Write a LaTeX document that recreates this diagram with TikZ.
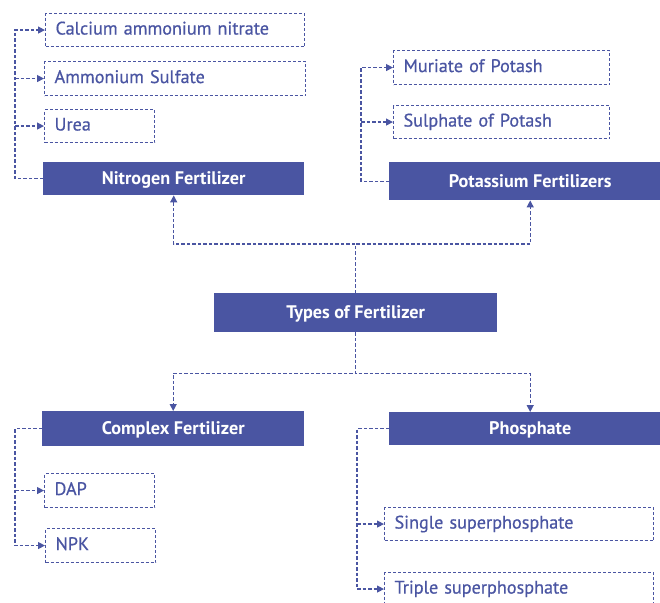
\documentclass[tikz,border=0pt]{standalone}
\usepackage{fontspec}
\setmainfont{PT Sans}
\newfontfamily\itemfont[FakeBold=0.6]{PT Sans}
\usetikzlibrary{arrows.meta}
\definecolor{fert}{HTML}{4A55A2}
\tikzset{
  box/.style={rectangle, anchor=north west, inner ysep=0pt},
  head/.style={box, fill=fert, text=white, text height=12.7pt, text depth=0.5pt,
    font=\fontsize{18.2}{20}\selectfont\bfseries},
  item/.style={box, draw=fert, line width=1.1pt, dash pattern=on 3pt off 2pt,
    text=fert, inner xsep=10pt, align=left, text height=12.5pt, text depth=3.5pt,
    font=\itemfont\fontsize{18.2}{20}\selectfont},
  conn/.style={draw=fert, line width=1.3pt, dash pattern=on 3.5pt off 2pt},
  tip/.style={conn, -{Triangle[length=7pt,width=7pt]}},
}
\begin{document}
\begin{tikzpicture}[x=1pt, y=-1pt]
\useasboundingbox (0,0) rectangle (660,602);
\clip (0,0) rectangle (660,602);

% centre node
\node[head, minimum width=283pt, minimum height=39pt] (types) at (214,293) {Types of Fertilizer};

% nitrogen group
\node[head, minimum width=261pt, minimum height=33pt] (nit) at (43,162) {Nitrogen Fertilizer};
\node[item, minimum height=33pt, text width=239pt] (cal) at (45,13) {Calcium ammonium nitrate};
\node[item, minimum height=34pt, text width=241pt] (amm) at (44,61) {Ammonium Sulfate};
\node[item, minimum height=33pt, text width=90pt] (urea) at (44,109) {Urea};

% potassium group
\node[head, minimum width=282pt, minimum height=38pt] (pot) at (389,162) {Potassium Fertilizers};
\node[item, minimum height=34pt, text width=196pt] (mur) at (393,50) {Muriate of Potash};
\node[item, minimum height=33pt, text width=196pt] (sul) at (393,105) {Sulphate of Potash};

% complex group
\node[head, minimum width=262pt, minimum height=35pt] (comp) at (42,411) {Complex Fertilizer};
\node[item, minimum height=34pt, text width=90pt] (dap) at (44,473) {DAP};
\node[item, minimum height=34pt, text width=90pt] (npk) at (45,528) {NPK};

% phosphate group
\node[head, minimum width=282pt, minimum height=33pt] (phos) at (389,412) {Phosphate};
\node[item, minimum height=33pt, text width=249pt] (ssp) at (384,507) {Single superphosphate};
\node[item, minimum height=33pt, text width=249pt] (tsp) at (384,572) {Triple superphosphate};

% buses
\coordinate (nbus) at (15,0);
\coordinate (kbus) at (361,0);
\coordinate (cbus) at (15,0);
\coordinate (pbus) at (357,0);

% main branches
\draw[tip] (types.north) -- ++(0,-49) -| (nit.south);
\draw[tip] (types.north) -- ++(0,-49) -| (pot.south);
\draw[tip] (types.south) -- ++(0,41) -| (comp.north);
\draw[tip] (types.south) -- ++(0,41) -| (phos.north);

% nitrogen members
\draw[tip] (nit.west) -| (nbus |- cal.west) -- (cal.west);
\draw[tip] (nbus |- amm.west) -- (amm.west);
\draw[tip] (nbus |- urea.west) -- (urea.west);

% potassium members
\draw[tip] (pot.west) -| (kbus |- mur.west) -- (mur.west);
\draw[tip] (kbus |- sul.west) -- (sul.west);

% complex members
\draw[tip] (comp.west) -| (cbus |- npk.west) -- (npk.west);
\draw[tip] (cbus |- dap.west) -- (dap.west);

% phosphate members
\draw[tip] (phos.west) -| (pbus |- tsp.west) -- (tsp.west);
\draw[tip] (pbus |- ssp.west) -- (ssp.west);
\end{tikzpicture}
\end{document}
